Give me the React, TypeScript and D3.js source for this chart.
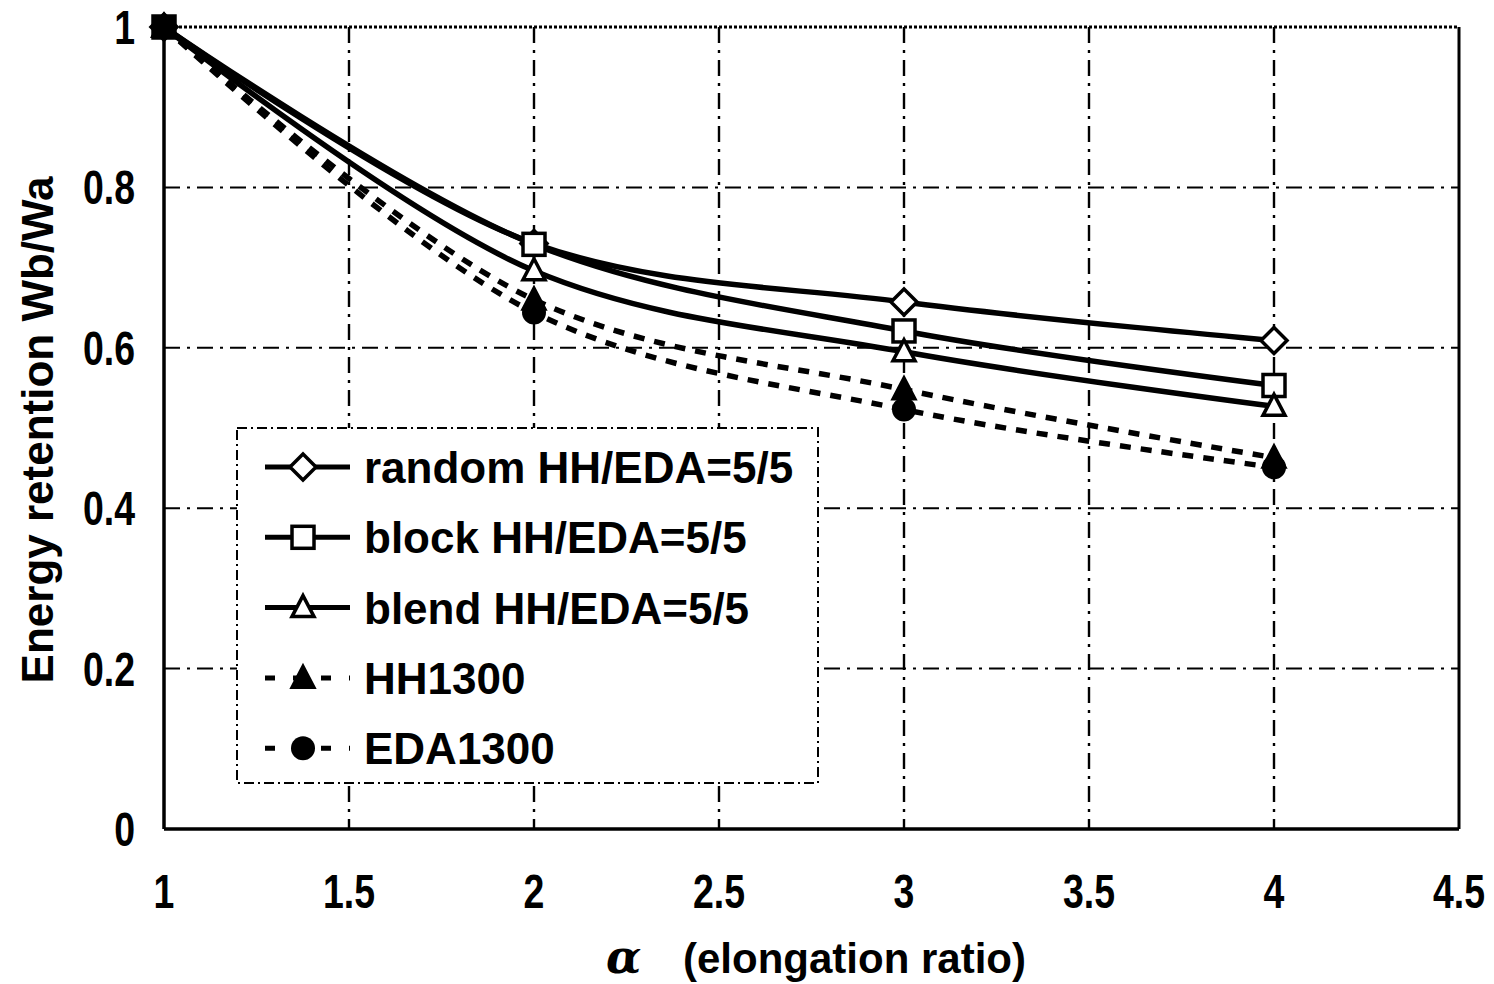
import React, { useEffect, useRef } from "react";
import * as d3 from "d3";

const xValues = [1, 2, 3, 4];
const randomVals = [1, 0.73, 0.657, 0.609];
const blockVals = [1, 0.729, 0.621, 0.553];
const blendVals = [1, 0.696, 0.595, 0.527];
const hhVals = [1, 0.66, 0.548, 0.463];
const edaVals = [1, 0.644, 0.523, 0.451];
const xTicks = [1, 1.5, 2, 2.5, 3, 3.5, 4, 4.5];
const yTicks = [0, 0.2, 0.4, 0.6, 0.8, 1];
const seriesNames = ["random HH/EDA=5/5", "block HH/EDA=5/5", "blend HH/EDA=5/5", "HH1300", "EDA1300"];

const W = 1494, H = 984;
const FONT = "'Liberation Sans', Arial, sans-serif";

export default function App() {
  const ref = useRef<SVGSVGElement>(null);
  useEffect(() => {
    const svg = d3.select(ref.current);
    svg.selectAll("*").remove();
    const x = d3.scaleLinear().domain([1, 4.5]).range([164, 1459]);
    const y = d3.scaleLinear().domain([0, 1]).range([829, 27]);

    svg.append("rect").attr("width", W).attr("height", H).attr("fill", "#fff");

    // grid
    const g = svg.append("g");
    xTicks.filter(t => t > 1 && t < 4.5).forEach(t => {
      g.append("line").attr("x1", x(t)).attr("x2", x(t)).attr("y1", y(1)).attr("y2", y(0))
        .attr("stroke", "#000").attr("stroke-width", 2.4).attr("stroke-dasharray", "16,7,3,7");
    });
    yTicks.filter(t => t > 0 && t < 1).forEach(t => {
      g.append("line").attr("x1", x(1)).attr("x2", x(4.5)).attr("y1", y(t)).attr("y2", y(t))
        .attr("stroke", "#000").attr("stroke-width", 2).attr("stroke-dasharray", "16,7,3,7");
    });
    // top border dotted
    g.append("line").attr("x1", x(1)).attr("x2", x(4.5)).attr("y1", y(1)).attr("y2", y(1))
      .attr("stroke", "#000").attr("stroke-width", 3).attr("stroke-dasharray", "3,2");
    // frame
    g.append("line").attr("x1", x(1)).attr("x2", x(1)).attr("y1", y(1)).attr("y2", y(0)).attr("stroke", "#000").attr("stroke-width", 3.5);
    g.append("line").attr("x1", x(4.5)).attr("x2", x(4.5)).attr("y1", y(1)).attr("y2", y(0)).attr("stroke", "#000").attr("stroke-width", 3);
    g.append("line").attr("x1", x(1)).attr("x2", x(4.5)).attr("y1", y(0)).attr("y2", y(0)).attr("stroke", "#000").attr("stroke-width", 3.5);

    // tick labels
    xTicks.forEach(t => {
      svg.append("text").attr("x", x(t)).attr("y", 908).attr("text-anchor", "middle")
        .attr("font-family", FONT).attr("font-weight", "bold").attr("font-size", 48)
        .attr("transform", `translate(${x(t)},0) scale(0.78,1) translate(${-x(t)},0)`)
        .text(String(t));
    });
    yTicks.forEach(t => {
      svg.append("text").attr("x", 135).attr("y", y(t) + 17).attr("text-anchor", "end")
        .attr("font-family", FONT).attr("font-weight", "bold").attr("font-size", 48)
        .attr("transform", `translate(135,0) scale(0.78,1) translate(-135,0)`)
        .text(String(t));
    });

    // axis titles
    svg.append("text").attr("transform", "translate(53,430) rotate(-90)")
      .attr("text-anchor", "middle").attr("font-family", FONT).attr("font-weight", "bold").attr("font-size", 44)
      .text("Energy retention Wb/Wa");
    svg.append("text").attr("x", 606).attr("y", 973)
      .attr("font-family", "'DejaVu Serif', serif").attr("font-style", "italic").attr("font-weight", "bold").attr("font-size", 46)
      .text("α");
    svg.append("text").attr("x", 683).attr("y", 973)
      .attr("font-family", FONT).attr("font-weight", "bold").attr("font-size", 42)
      .text("(elongation ratio)");

    const line = d3.line<number>().x((_, i) => x(xValues[i])).y(d => y(d)).curve(d3.curveCatmullRom.alpha(0.5));

    const series = [
      { vals: randomVals, dash: null, marker: "diamond" },
      { vals: blockVals, dash: null, marker: "square" },
      { vals: blendVals, dash: null, marker: "triangle" },
      { vals: hhVals, dash: "11,10", marker: "filledTriangle" },
      { vals: edaVals, dash: "11,10", marker: "circle" },
    ];

    const drawMarker = (sel: any, type: string, cx: number, cy: number) => {
      if (type === "diamond") {
        sel.append("path").attr("d", `M${cx},${cy - 13}L${cx + 13},${cy}L${cx},${cy + 13}L${cx - 13},${cy}Z`)
          .attr("fill", "#fff").attr("stroke", "#000").attr("stroke-width", 3.5);
      } else if (type === "square") {
        sel.append("rect").attr("x", cx - 11).attr("y", cy - 11).attr("width", 22).attr("height", 22)
          .attr("fill", "#fff").attr("stroke", "#000").attr("stroke-width", 3.5);
      } else if (type === "triangle") {
        sel.append("path").attr("d", `M${cx},${cy - 12}L${cx + 11},${cy + 9}L${cx - 11},${cy + 9}Z`)
          .attr("fill", "#fff").attr("stroke", "#000").attr("stroke-width", 3.5);
      } else if (type === "filledTriangle") {
        sel.append("path").attr("d", `M${cx},${cy - 13}L${cx + 12},${cy + 10}L${cx - 12},${cy + 10}Z`)
          .attr("fill", "#000").attr("stroke", "#000").attr("stroke-width", 2);
      } else {
        sel.append("circle").attr("cx", cx).attr("cy", cy).attr("r", 12).attr("fill", "#000");
      }
    };

    series.forEach(s => {
      const p = svg.append("path").attr("d", line(s.vals)).attr("fill", "none").attr("stroke", "#000").attr("stroke-width", 5.5);
      if (s.dash) p.attr("stroke-dasharray", s.dash);
    });
    series.forEach(s => {
      s.vals.forEach((v, i) => drawMarker(svg, s.marker, x(xValues[i]), y(v)));
    });
    // black overlay at (1,1) as in reference
    svg.append("rect").attr("x", x(1) - 12).attr("y", y(1) - 12).attr("width", 24).attr("height", 24).attr("fill", "#000");

    // legend
    const lg = svg.append("g");
    lg.append("rect").attr("x", 237).attr("y", 428).attr("width", 581).attr("height", 355)
      .attr("fill", "#fff").attr("stroke", "#000").attr("stroke-width", 2).attr("stroke-dasharray", "10,4,2,4");
    seriesNames.forEach((name, i) => {
      const cy = 467 + i * 70.3;
      const s = series[i];
      const l = lg.append("line").attr("x1", 265).attr("x2", 350).attr("y1", cy).attr("y2", cy)
        .attr("stroke", "#000").attr("stroke-width", 5);
      if (s.dash) l.attr("stroke-dasharray", "10,18");
      drawMarker(lg, s.marker, 303, cy);
      lg.append("text").attr("x", 364).attr("y", cy + 16)
        .attr("font-family", FONT).attr("font-weight", "bold").attr("font-size", 44)
        .text(name);
    });
  }, []);
  return <svg ref={ref} width={W} height={H} style={{ position: "absolute", left: 0, top: 0 }} />;
}
